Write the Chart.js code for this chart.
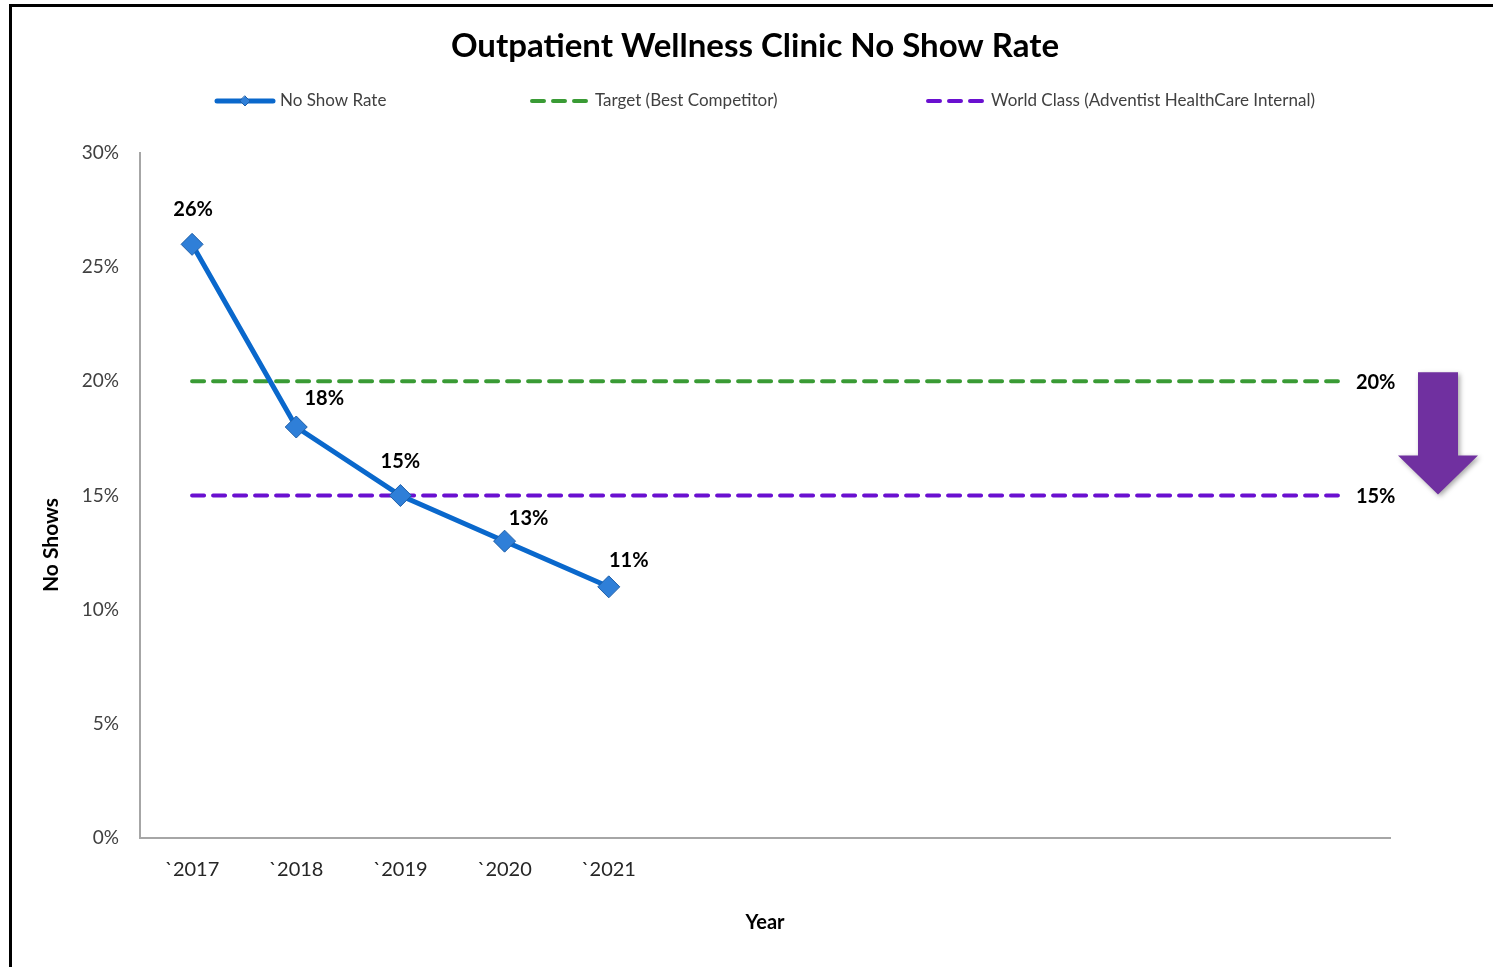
<!DOCTYPE html>
<html>
<head>
<meta charset="utf-8">
<script src="https://cdn.jsdelivr.net/npm/chart.js@4"></script>
<style>
  html, body { margin: 0; padding: 0; background: #fff; }
  #wrap { position: relative; width: 1493px; height: 967px; }
  #frame { position: absolute; left: 9px; top: 4px; right: 0; bottom: 0;
           border-top: 3px solid #000; border-left: 3px solid #000; pointer-events: none; }
</style>
</head>
<body>
<div id="wrap">
  <canvas id="chart" width="1493" height="967"></canvas>
  <div id="frame"></div>
</div>
<script>
var years = ['`2017', '`2018', '`2019', '`2020', '`2021', '', '', '', '', '', '', ''];
var noShowRate = [26, 18, 15, 13, 11];
var target = [20, 20, 20, 20, 20, 20, 20, 20, 20, 20, 20, 20];
var worldClass = [15, 15, 15, 15, 15, 15, 15, 15, 15, 15, 15, 15];
var yTicks = [0, 5, 10, 15, 20, 25, 30];
var chartTitle = 'Outpatient Wellness Clinic No Show Rate';
var yTitle = 'No Shows';

var FONT = 'Lato, "Open Sans", sans-serif';
var BLUE = '#0A68CC';
var GREEN = '#3A9B35';
var PURPLE = '#6A10D0';

// data labels above the points (small nudges like Excel's placement)
var labelShift = [[1, -35], [28, -28], [0, -34], [24, -23], [20, -26]];

var extras = {
    id: 'extras',
    afterDatasetsDraw: function (chart) {
        var ctx = chart.ctx;
        ctx.save();
        ctx.fillStyle = '#000';
        ctx.font = 'bold 20px ' + FONT;
        ctx.textAlign = 'center';
        ctx.textBaseline = 'middle';
        chart.getDatasetMeta(0).data.forEach(function (pt, i) {
            var s = labelShift[i] || [0, -30];
            ctx.fillText(noShowRate[i] + '%', pt.x + s[0], pt.y + s[1]);
        });

        // end labels for the reference lines
        ctx.textAlign = 'left';
        [1, 2].forEach(function (d) {
            var pts = chart.getDatasetMeta(d).data;
            var last = pts[pts.length - 1];
            var v = chart.data.datasets[d].data[pts.length - 1];
            ctx.fillText(v + '%', last.x + 18, last.y + 1);
        });

        // purple down arrow
        var y = chart.scales.y;
        var cx = chart.chartArea.right + 48;
        var top = y.getPixelForValue(20) - 9;
        var tip = y.getPixelForValue(15) - 1;
        var neck = tip - 39;
        ctx.shadowColor = 'rgba(0,0,0,0.35)';
        ctx.shadowBlur = 5;
        ctx.shadowOffsetX = 2;
        ctx.shadowOffsetY = 2;
        ctx.fillStyle = '#7030A0';
        ctx.beginPath();
        ctx.moveTo(cx - 20, top);
        ctx.lineTo(cx + 20, top);
        ctx.lineTo(cx + 20, neck);
        ctx.lineTo(cx + 40, neck);
        ctx.lineTo(cx, tip);
        ctx.lineTo(cx - 40, neck);
        ctx.lineTo(cx - 20, neck);
        ctx.closePath();
        ctx.fill();
        ctx.restore();
    },
    afterDraw: function (chart) {
        var ctx = chart.ctx;
        ctx.save();

        // chart title (Excel centres it on the whole frame, not the plot)
        ctx.fillStyle = '#000';
        ctx.font = 'bold 33px ' + FONT;
        ctx.textAlign = 'center';
        ctx.textBaseline = 'middle';
        ctx.fillText(chartTitle, 755, 46);

        // y axis title, sitting a bit below the plot's middle like the original
        ctx.save();
        ctx.translate(51, 545);
        ctx.rotate(-Math.PI / 2);
        ctx.font = 'bold 21px ' + FONT;
        ctx.fillText(yTitle, 0, 0);
        ctx.restore();

        // legend row
        var items = [
            { x: 215, text: 'No Show Rate', color: BLUE, dash: [], marker: true },
            { x: 530, text: 'Target (Best Competitor)', color: GREEN, dash: [12, 9] },
            { x: 926, text: 'World Class (Adventist HealthCare Internal)', color: PURPLE, dash: [12, 9] }
        ];
        var ly = 101;
        items.forEach(function (it) {
            ctx.strokeStyle = it.color;
            ctx.lineWidth = it.marker ? 5 : 4;
            ctx.lineCap = 'round';
            ctx.setLineDash(it.dash);
            ctx.beginPath();
            ctx.moveTo(it.x + 2, ly);
            ctx.lineTo(it.x + 58, ly);
            ctx.stroke();
            ctx.setLineDash([]);
            if (it.marker) {
                ctx.fillStyle = '#2F7FD8';
                ctx.strokeStyle = '#1F5FA8';
                ctx.lineWidth = 1;
                ctx.beginPath();
                ctx.moveTo(it.x + 30, ly - 5);
                ctx.lineTo(it.x + 35, ly);
                ctx.lineTo(it.x + 30, ly + 5);
                ctx.lineTo(it.x + 25, ly);
                ctx.closePath();
                ctx.fill();
                ctx.stroke();
            }
            ctx.fillStyle = '#404040';
            ctx.font = '17px ' + FONT;
            ctx.textAlign = 'left';
            ctx.textBaseline = 'middle';
            ctx.fillText(it.text, it.x + 65, ly);
        });
        ctx.restore();
    }
};

var canvas = document.getElementById('chart');
var grafico = new Chart(canvas, {
    type: 'line',
    data: {
        labels: years,
        datasets: [{
            label: 'No Show Rate',
            data: noShowRate,
            borderColor: BLUE,
            borderWidth: 5,
            pointStyle: 'rectRot',
            pointRadius: 11,
            pointBackgroundColor: '#2F7FD8',
            pointBorderColor: '#1F5FA8',
            pointBorderWidth: 1,
            tension: 0
        }, {
            label: 'Target (Best Competitor)',
            data: target,
            borderColor: GREEN,
            borderWidth: 4,
            borderDash: [12, 9],
            borderCapStyle: 'round',
            pointRadius: 0
        }, {
            label: 'World Class (Adventist HealthCare Internal)',
            data: worldClass,
            borderColor: PURPLE,
            borderWidth: 4,
            borderDash: [12, 9],
            borderCapStyle: 'round',
            pointRadius: 0
        }]
    },
    options: {
        responsive: false,
        animation: false,
        layout: { padding: { left: 30, right: 103, top: 153, bottom: 0 } },
        plugins: {
            legend: { display: false },
            tooltip: { enabled: false },
            title: { display: false }
        },
        scales: {
            x: {
                offset: true,
                grid: { display: false, drawTicks: false },
                border: { display: true, color: '#A6A6A6', width: 2 },
                ticks: {
                    color: '#262626',
                    font: { family: FONT, size: 20 },
                    padding: 20,
                    maxRotation: 0,
                    autoSkip: false
                },
                title: {
                    display: true,
                    text: 'Year',
                    color: '#000',
                    font: { family: FONT, size: 20, weight: 'bold', lineHeight: 1.2 },
                    padding: { top: 0, bottom: 32 }
                },
                afterFit: function (s) { s.height = 129; }
            },
            y: {
                min: 0,
                max: 30,
                grid: { display: false, drawTicks: false },
                border: { display: true, color: '#A6A6A6', width: 2 },
                afterBuildTicks: function (s) {
                    s.ticks = yTicks.map(function (v) { return { value: v }; });
                },
                ticks: {
                    color: '#404040',
                    font: { family: FONT, size: 19 },
                    padding: 21,
                    callback: function (v) { return v + '%'; }
                },
                title: { display: false },
                afterFit: function (s) { s.width = 110; }
            }
        }
    },
    plugins: [extras]
});
</script>
</body>
</html>
